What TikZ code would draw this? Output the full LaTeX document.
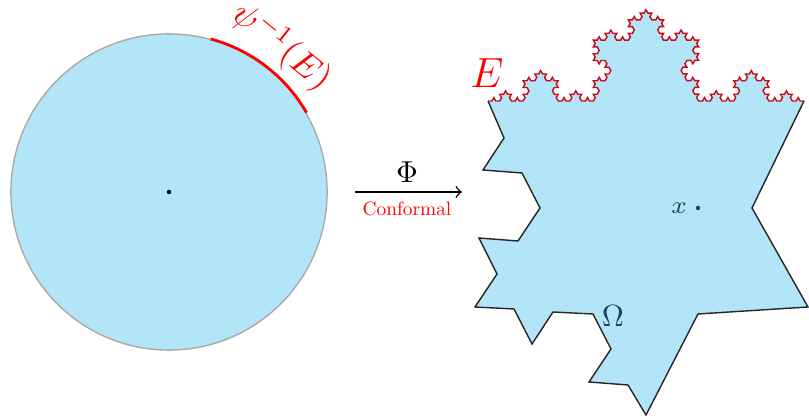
\documentclass[tikz,border=0pt]{standalone}
\usetikzlibrary{decorations.fractals}
\definecolor{xSky}{RGB}{179,229,248}
\definecolor{xRim}{RGB}{170,170,170}
\definecolor{xInk}{RGB}{25,72,92}
\definecolor{xKoch}{RGB}{200,10,20}
\tikzset{
  disk/.style={circle, draw=xRim, fill=xSky, line width=0.4pt, inner sep=0pt, minimum size=3.16cm},
  arcE/.style={red, line width=0.8pt},
  map/.style={->, thin},
  koch/.style={xKoch, line width=0.4pt},
  rim/.style={black!85, line width=0.4pt, line join=miter},
  pt/.style={circle, fill, inner sep=0pt, minimum size=0.45mm},
}
\begin{document}
\begin{tikzpicture}[x=0.01cm, y=-0.01cm, decoration={Koch snowflake}]
  \useasboundingbox (0,0) rectangle (809,416);
  % unit disk
  \node[disk] (disk) at (169,192) {};
  \node[pt] (o) at (disk.center) {};
  \draw[arcE] (disk.30) arc[start angle=-30, end angle=-75, radius=158];
  \node[red, rotate=-39, font=\fontsize{9.6}{11}\selectfont] (psi) at (282,47) {$\psi^{-1}(E)$};
  % the map
  \coordinate (mapS) at (355,192);
  \coordinate (mapE) at (462,192);
  \draw[map] (mapS) -- (mapE);
  \node (phi) at (407,172) {\scalebox{0.86}{$\Phi$}};
  \node[red] (conf) at (407,209) {\scalebox{0.55}{Conformal}};
  % the domain
  \coordinate (kL) at (488,101);
  \coordinate (kR) at (804,101);
  \fill[xSky] decorate{decorate{decorate{decorate{(kL) -- (kR)}}}}
    -- (752,208) -- (808,307) -- (698,314) -- (646,415) -- (628,385)
    -- (589,382) -- (611,349) -- (593,314) -- (553,312) -- (532,344)
    -- (514,309) -- (475,307) -- (497,274) -- (479,238) -- (518,241)
    -- (540,208) -- (522,173) -- (483,170) -- (504,138) -- cycle;
  \draw[rim] (kR) -- (752,208) -- (808,307) -- (698,314) -- (646,415) -- (628,385)
    -- (589,382) -- (611,349) -- (593,314) -- (553,312) -- (532,344)
    -- (514,309) -- (475,307) -- (497,274) -- (479,238) -- (518,241)
    -- (540,208) -- (522,173) -- (483,170) -- (504,138) -- (kL);
  \draw[koch] decorate{decorate{decorate{decorate{(kL) -- (kR)}}}};
  \node[red, font=\fontsize{12.8}{14}\selectfont] (E) at (487,73) {$E$};
  \node[pt, xInk] (x) at (698,208) {};
  \node[xInk, font=\fontsize{7}{8}\selectfont] (xlab) at (679,208) {$x$};
  \node[xInk] (omega) at (613,316) {\scalebox{0.87}{$\Omega$}};
\end{tikzpicture}
\end{document}
